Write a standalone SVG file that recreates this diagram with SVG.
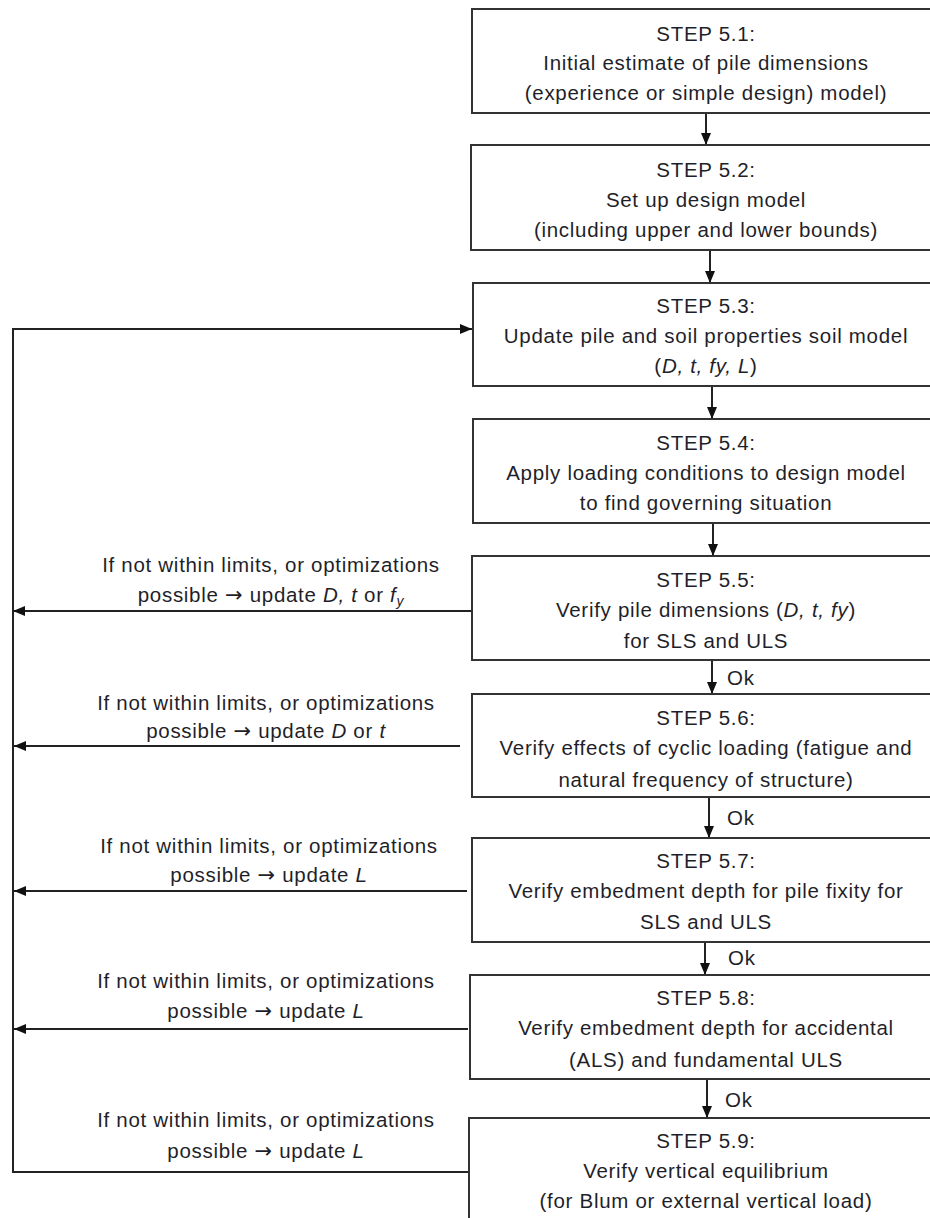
<svg xmlns="http://www.w3.org/2000/svg" width="930" height="1218" viewBox="0 0 930 1218">
<style>
.box{fill:#fff;stroke:#333;stroke-width:2}
.t{font-family:"Liberation Sans",Arial,sans-serif;font-size:20.5px;fill:#1f1f2a;letter-spacing:0.7px;text-anchor:middle}
.ok{font-family:"Liberation Sans",Arial,sans-serif;font-size:20.5px;fill:#1f1f2a;letter-spacing:0.7px}
.i{font-style:italic}
.ar{font-family:"DejaVu Sans",sans-serif;font-size:21px;letter-spacing:0.7px}
.c{fill:none;stroke:#222;stroke-width:2}
</style>
<defs>
<marker id="ah" viewBox="0 0 12 10" refX="12" refY="5" markerWidth="12" markerHeight="10" markerUnits="userSpaceOnUse" orient="auto">
<path d="M0,0 L12,5 L0,10 Z" fill="#111"/>
</marker>
</defs>
<rect width="930" height="1218" fill="#fff"/>
<g id="connectors">
<line class="c" x1="706" y1="113" x2="706" y2="145" marker-end="url(#ah)"/>
<line class="c" x1="710" y1="250" x2="710" y2="283" marker-end="url(#ah)"/>
<line class="c" x1="712" y1="386" x2="712" y2="419" marker-end="url(#ah)"/>
<line class="c" x1="713" y1="523" x2="713" y2="556" marker-end="url(#ah)"/>
<line class="c" x1="712" y1="660" x2="712" y2="694" marker-end="url(#ah)"/>
<line class="c" x1="709" y1="797" x2="709" y2="838" marker-end="url(#ah)"/>
<line class="c" x1="705" y1="942" x2="705" y2="975" marker-end="url(#ah)"/>
<line class="c" x1="707" y1="1079" x2="707" y2="1118" marker-end="url(#ah)"/>
<polyline class="c" points="469,1172 13,1172 13,329 472,329" marker-end="url(#ah)"/>
<line class="c" x1="472" y1="611" x2="13" y2="611" marker-end="url(#ah)"/>
<line class="c" x1="460" y1="746" x2="14" y2="746" marker-end="url(#ah)"/>
<line class="c" x1="467" y1="891" x2="14" y2="891" marker-end="url(#ah)"/>
<line class="c" x1="468" y1="1029" x2="14" y2="1029" marker-end="url(#ah)"/>
<text class="ok" x="727" y="685">Ok</text>
<text class="ok" x="727" y="825">Ok</text>
<text class="ok" x="728" y="965">Ok</text>
<text class="ok" x="725" y="1107">Ok</text>
<text class="t" x="271" y="572">If not within limits, or optimizations</text>
<text class="t" x="271" y="602">possible <tspan class="ar">→</tspan> update <tspan class="i">D, t</tspan> or <tspan class="i">f</tspan><tspan class="i" font-size="14" dy="4">y</tspan></text>
<text class="t" x="266" y="710">If not within limits, or optimizations</text>
<text class="t" x="266" y="738">possible <tspan class="ar">→</tspan> update <tspan class="i">D</tspan> or <tspan class="i">t</tspan></text>
<text class="t" x="269" y="853">If not within limits, or optimizations</text>
<text class="t" x="269" y="882">possible <tspan class="ar">→</tspan> update <tspan class="i">L</tspan></text>
<text class="t" x="266" y="988">If not within limits, or optimizations</text>
<text class="t" x="266" y="1018">possible <tspan class="ar">→</tspan> update <tspan class="i">L</tspan></text>
<text class="t" x="266" y="1127">If not within limits, or optimizations</text>
<text class="t" x="266" y="1158">possible <tspan class="ar">→</tspan> update <tspan class="i">L</tspan></text>
</g>
<g id="step51">
<rect class="box" x="472" y="9" width="470" height="104"/>
<text class="t" x="706" y="41">STEP 5.1:</text>
<text class="t" x="706" y="70">Initial estimate of pile dimensions</text>
<text class="t" x="706" y="100">(experience or simple design) model)</text>
</g>
<g id="step52">
<rect class="box" x="471" y="145" width="471" height="105"/>
<text class="t" x="706" y="177">STEP 5.2:</text>
<text class="t" x="706" y="207">Set up design model</text>
<text class="t" x="706" y="237">(including upper and lower bounds)</text>
</g>
<g id="step53">
<rect class="box" x="473" y="283" width="469" height="103"/>
<text class="t" x="706" y="313">STEP 5.3:</text>
<text class="t" x="706" y="343">Update pile and soil properties soil model</text>
<text class="t" x="706" y="373">(<tspan class="i">D, t, fy, L</tspan>)</text>
</g>
<g id="step54">
<rect class="box" x="473" y="419" width="469" height="104"/>
<text class="t" x="706" y="450">STEP 5.4:</text>
<text class="t" x="706" y="480">Apply loading conditions to design model</text>
<text class="t" x="706" y="510">to find governing situation</text>
</g>
<g id="step55">
<rect class="box" x="472" y="556" width="470" height="104"/>
<text class="t" x="706" y="587">STEP 5.5:</text>
<text class="t" x="706" y="617">Verify pile dimensions (<tspan class="i">D, t, fy</tspan>)</text>
<text class="t" x="706" y="648">for SLS and ULS</text>
</g>
<g id="step56">
<rect class="box" x="472" y="694" width="470" height="103"/>
<text class="t" x="706" y="725">STEP 5.6:</text>
<text class="t" x="706" y="755">Verify effects of cyclic loading (fatigue and</text>
<text class="t" x="706" y="787">natural frequency of structure)</text>
</g>
<g id="step57">
<rect class="box" x="472" y="838" width="470" height="104"/>
<text class="t" x="706" y="868">STEP 5.7:</text>
<text class="t" x="706" y="898">Verify embedment depth for pile fixity for</text>
<text class="t" x="706" y="929">SLS and ULS</text>
</g>
<g id="step58">
<rect class="box" x="470" y="975" width="472" height="104"/>
<text class="t" x="706" y="1005">STEP 5.8:</text>
<text class="t" x="706" y="1035">Verify embedment depth for accidental</text>
<text class="t" x="706" y="1067">(ALS) and fundamental ULS</text>
</g>
<g id="step59">
<rect class="box" x="469" y="1118" width="473" height="110"/>
<text class="t" x="706" y="1148">STEP 5.9:</text>
<text class="t" x="706" y="1178">Verify vertical equilibrium</text>
<text class="t" x="706" y="1208">(for Blum or external vertical load)</text>
</g>
</svg>
